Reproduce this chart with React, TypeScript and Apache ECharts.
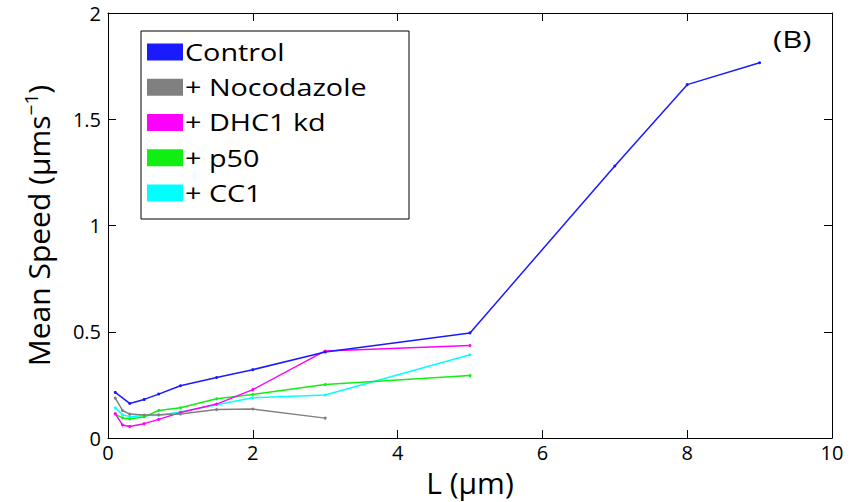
import React, { useEffect, useRef } from "react";
import * as echarts from "echarts";

const controlX = [0.1, 0.3, 0.5, 0.7, 1, 1.5, 2, 3, 5, 7, 8, 9];
const controlY = [0.215, 0.163, 0.182, 0.207, 0.246, 0.285, 0.322, 0.405, 0.495, 1.28, 1.663, 1.766];

const nocoX = [0.1, 0.2, 0.3, 0.5, 0.7, 1, 1.5, 2, 3];
const nocoY = [0.188, 0.13, 0.113, 0.109, 0.11, 0.113, 0.134, 0.137, 0.094];

const dhcX = [0.1, 0.2, 0.3, 0.5, 0.7, 1, 1.5, 2, 3, 5];
const dhcY = [0.115, 0.062, 0.055, 0.068, 0.088, 0.12, 0.16, 0.228, 0.41, 0.436];

const p50X = [0.1, 0.2, 0.3, 0.5, 0.7, 1, 1.5, 2, 3, 5];
const p50Y = [0.113, 0.095, 0.09, 0.1, 0.13, 0.143, 0.185, 0.205, 0.252, 0.294];

const cc1X = [0.1, 0.2, 0.3, 0.5, 0.7, 1, 1.5, 2, 3, 5];
const cc1Y = [0.142, 0.11, 0.101, 0.106, 0.108, 0.123, 0.157, 0.19, 0.203, 0.392];

const seriesNames = ["Control", "+ Nocodazole", "+ DHC1 kd", "+ p50", "+ CC1"];
const seriesColors = ["#1a1aff", "#808080", "#ff00ff", "#11ee11", "#00ffff"];

const FONT = "'Open Sans', 'Noto Sans', sans-serif";

function pairs(xs: number[], ys: number[]) {
  return xs.map((x, i) => [x, ys[i]]);
}

export default function App() {
  const ref = useRef<HTMLDivElement>(null);
  useEffect(() => {
    if (!ref.current) return;
    const chart = echarts.init(ref.current, undefined, { renderer: "svg" });
    const allData = [
      pairs(controlX, controlY),
      pairs(nocoX, nocoY),
      pairs(dhcX, dhcY),
      pairs(p50X, p50Y),
      pairs(cc1X, cc1Y),
    ];

    const legendLeft = 141;
    const legendTop = 31;
    const rowStep = 35.25;
    const legendChildren: any[] = [
      {
        type: "rect",
        shape: { x: 0, y: 0, width: 268, height: 188 },
        style: { fill: "#fff", stroke: "#000", lineWidth: 1 },
      },
    ];
    seriesNames.forEach((name, i) => {
      const cy = 21 + i * rowStep;
      legendChildren.push({
        type: "rect",
        shape: { x: 6, y: cy - 8.5, width: 36, height: 17 },
        style: { fill: seriesColors[i] },
      });
      legendChildren.push({
        type: "text",
        x: 44,
        y: cy,
        scaleX: 1.25,
        style: {
          text: name,
          fontSize: 23,
          fontFamily: FONT,
          fill: "#000",
          verticalAlign: "middle",
          align: "left",
        },
      });
    });

    const axisLine = { show: true, onZero: false, lineStyle: { color: "#000", width: 1 } };
    const axisTick = { show: true, inside: true, length: 8, lineStyle: { color: "#000" } };
    const tickFont = { fontSize: 20, color: "#000", fontFamily: FONT };

    chart.setOption({
      animation: false,
      backgroundColor: "#ffffff",
      grid: {
        left: 108,
        top: 13,
        width: 724,
        height: 428,
        show: false,
      },
      xAxis: [
        {
          type: "value",
          min: 0,
          max: 10,
          interval: 2,
          position: "bottom",
          name: "L (μm)",
          nameLocation: "middle",
          nameGap: 27,
          nameTextStyle: { fontSize: 30, color: "#000", fontFamily: FONT },
          axisLine,
          axisTick,
          axisLabel: { ...tickFont, margin: 4 },
          splitLine: { show: false },
        },
        {
          type: "value",
          min: 0,
          max: 10,
          interval: 2,
          position: "top",
          axisLine,
          axisTick,
          axisLabel: { show: false },
          splitLine: { show: false },
        },
      ],
      yAxis: [
        {
          type: "value",
          min: 0,
          max: 2,
          interval: 0.5,
          position: "left",
          name: "Mean Speed (μms{sup|−1})",
          nameLocation: "middle",
          nameGap: 52,
          nameTextStyle: {
            fontSize: 30,
            color: "#000",
            fontFamily: FONT,
            rich: {
              sup: { fontSize: 19, verticalAlign: "top", padding: [0, 0, 16, 0], color: "#000", fontFamily: FONT },
            },
          },
          axisLine,
          axisTick,
          axisLabel: { ...tickFont, margin: 7 },
          splitLine: { show: false },
        },
        {
          type: "value",
          min: 0,
          max: 2,
          interval: 0.5,
          position: "right",
          axisLine,
          axisTick,
          axisLabel: { show: false },
          splitLine: { show: false },
        },
      ],
      graphic: [
        {
          type: "group",
          x: legendLeft,
          y: legendTop,
          z: 100,
          children: legendChildren,
        },
        {
          type: "text",
          x: 773,
          y: 39,
          scaleX: 1.3,
          z: 100,
          style: { text: "(B)", fontSize: 24, fill: "#000", fontFamily: FONT, verticalAlign: "middle" },
        },
      ],
      series: seriesNames.map((name, i) => ({
        name,
        type: "line",
        xAxisIndex: 0,
        yAxisIndex: 0,
        data: allData[i],
        color: seriesColors[i],
        symbol: "circle",
        symbolSize: 3,
        showSymbol: true,
        lineStyle: { width: 1.5, color: seriesColors[i] },
        itemStyle: { color: seriesColors[i] },
        z: 10 - i,
      })),
    });
    return () => chart.dispose();
  }, []);
  return <div ref={ref} style={{ width: 853, height: 502, position: "absolute", left: 0, top: 0 }} />;
}
